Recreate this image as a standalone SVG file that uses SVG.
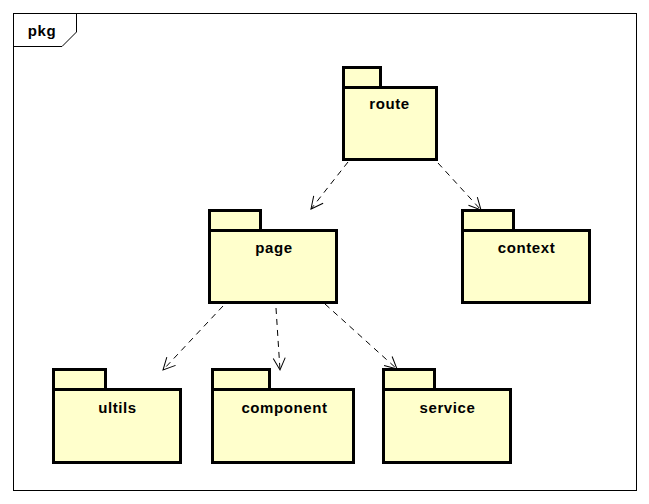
<svg xmlns="http://www.w3.org/2000/svg" width="649" height="504" viewBox="0 0 649 504">
  <defs>
    <style>
      .pkg { fill: #ffffcc; stroke: #000; stroke-width: 3; }
      .lbl { font-family: "Liberation Sans", Arial, sans-serif; font-size: 15px; letter-spacing: 0.6px; font-weight: bold; fill: #000; text-anchor: middle; }
      .dep { fill: none; stroke: #000; stroke-width: 1; stroke-dasharray: 6 5; marker-end: url(#open); }
      .frame { fill: #fff; stroke: #000; stroke-width: 1; }
    </style>
    <marker id="open" markerUnits="userSpaceOnUse" markerWidth="16" markerHeight="16" viewBox="0 0 16 16" refX="14" refY="8" orient="auto">
      <path d="M2,2 L14,8 L2,14" fill="none" stroke="#000" stroke-width="1"/>
    </marker>
  </defs>

  <rect width="649" height="504" fill="#fff"/>

  <!-- frame -->
  <g id="frame">
    <rect class="frame" x="13.5" y="13.5" width="623" height="477"/>
    <path d="M13.5,46.5 H62 L76.5,32 V13.5" fill="none" stroke="#000" stroke-width="1"/>
    <text class="lbl" x="42" y="36">pkg</text>
  </g>

  <!-- connectors -->
  <g id="connectors">
    <path class="dep" d="M348,162 L311,209"/>
    <path class="dep" d="M438,163 L481,210"/>
    <path class="dep" d="M223,306 L163,370"/>
    <path class="dep" d="M276,308 L280,370"/>
    <path class="dep" d="M325,304 L397,369"/>
  </g>

  <g id="route">
    <rect class="pkg" x="343.5" y="67.5" width="37" height="20"/>
    <rect class="pkg" x="343.5" y="87.5" width="93" height="72"/>
    <text class="lbl" x="389.5" y="109">route</text>
  </g>

  <g id="page">
    <rect class="pkg" x="209.5" y="210.5" width="51" height="20"/>
    <rect class="pkg" x="209.5" y="230.5" width="127" height="72"/>
    <text class="lbl" x="274" y="253">page</text>
  </g>

  <g id="context">
    <rect class="pkg" x="462.5" y="210.5" width="51" height="20"/>
    <rect class="pkg" x="462.5" y="230.5" width="127" height="72"/>
    <text class="lbl" x="526.5" y="253">context</text>
  </g>

  <g id="ultils">
    <rect class="pkg" x="53.5" y="369.5" width="52" height="20"/>
    <rect class="pkg" x="53.5" y="389.5" width="127" height="73"/>
    <text class="lbl" x="117.5" y="413">ultils</text>
  </g>

  <g id="component">
    <rect class="pkg" x="212.5" y="369.5" width="57" height="20"/>
    <rect class="pkg" x="212.5" y="389.5" width="141" height="73"/>
    <text class="lbl" x="284.5" y="413">component</text>
  </g>

  <g id="service">
    <rect class="pkg" x="383.5" y="369.5" width="51" height="20"/>
    <rect class="pkg" x="383.5" y="389.5" width="127" height="73"/>
    <text class="lbl" x="447.5" y="413">service</text>
  </g>
</svg>
